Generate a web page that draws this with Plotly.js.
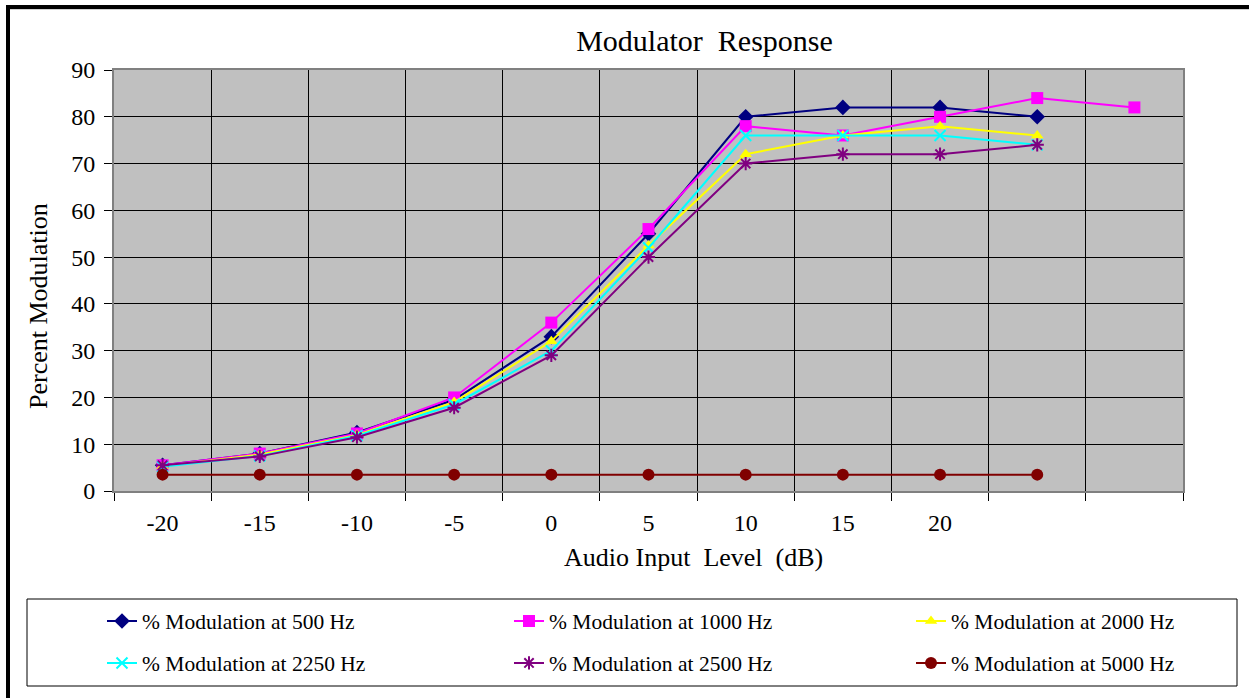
<!DOCTYPE html>
<html>
<head>
<meta charset="utf-8">
<script src="https://cdn.plot.ly/plotly-3.0.1.min.js"></script>
<style>
  html, body { margin: 0; padding: 0; background: #ffffff; }
  #chart { width: 1249px; height: 698px; }
</style>
</head>
<body>
<div id="chart"></div>
<script>
// Audio input level (dB) for each measurement point
const levels = [-20, -15, -10, -5, 0, 5, 10, 15, 20, 25, 30];
// Labelled ticks on the level axis
const tickLevels = [-20, -15, -10, -5, 0, 5, 10, 15, 20];
const tickLabels = ['-20', '-15', '-10', '-5', '0', '5', '10', '15', '20'];

// Percent modulation measured at each tone frequency
const mod500  = [5.5, 8.0, 12.5, 19.5, 33, 55, 80, 82, 82, 80];
const mod1000 = [5.5, 8.0, 12.3, 20.0, 36, 56, 78, 76, 80, 84, 82];
const mod2000 = [5.3, 7.8, 12.0, 19.0, 32, 52.5, 72, 76, 78, 76];
const mod2250 = [5.2, 7.5, 11.8, 18.5, 30, 52, 76, 76, 76, 74];
const mod2500 = [5.5, 7.4, 11.5, 17.8, 29, 50, 70, 72, 72, 74];
const mod5000 = [3.5, 3.5, 3.5, 3.5, 3.5, 3.5, 3.5, 3.5, 3.5, 3.5];

const seriesNames = [
  '% Modulation at 500 Hz', '% Modulation at 1000 Hz', '% Modulation at 2000 Hz',
  '% Modulation at 2250 Hz', '% Modulation at 2500 Hz', '% Modulation at 5000 Hz'
];

// ---- page geometry ----
const W = 1249, H = 698;
const M = { l: 114, r: 66, t: 70, b: 207, autoexpand: false };
const PW = W - M.l - M.r, PH = H - M.t - M.b;
const px2x = px => (px - M.l) / PW;          // pixel -> paper x
const py2y = py => (H - M.b - py) / PH;      // pixel -> paper y
const cx = px => px / W;                     // pixel -> container x
const cy = py => 1 - py / H;                 // pixel -> container y

const FONT = 'Liberation Serif, Times New Roman, serif';

function series(y, name, color, symbol, size, legendId, open) {
  const marker = { symbol: symbol, size: size, color: color };
  if (open) marker.line = { color: color, width: 2 };
  return {
    type: 'scatter', mode: 'lines+markers',
    x: levels.slice(0, y.length), y: y, name: name,
    line: { color: color, width: 2 },
    marker: marker,
    legend: legendId
  };
}

const traces = [
  series(mod500,  seriesNames[0], '#000080', 'diamond',       12, 'legend',  false),
  series(mod1000, seriesNames[1], '#FF00FF', 'square',        12, 'legend2', false),
  series(mod2000, seriesNames[2], '#FFFF00', 'triangle-up',   11, 'legend3', false),
  series(mod2250, seriesNames[3], '#00FFFF', 'x-thin-open',   11, 'legend4', true),
  series(mod2500, seriesNames[4], '#800080', 'asterisk-open', 11, 'legend5', true),
  series(mod5000, seriesNames[5], '#800000', 'circle',        12, 'legend6', false)
];

// Category boundaries for the vertical grid
const boundaries = [];
for (let i = 0; i <= levels.length; i++) boundaries.push(levels[0] - 2.5 + 5 * i);

// Legend entries: three columns, two rows
const colText = [142, 549, 951];
const rowY = [621, 663];
function legendAt(col, row) {
  return {
    xref: 'container', yref: 'container',
    x: cx(colText[col] - 40), xanchor: 'left',
    y: cy(rowY[row]), yanchor: 'middle',
    bgcolor: 'rgba(0,0,0,0)', borderwidth: 0,
    font: { family: FONT, size: 21.5, color: '#000' }
  };
}

const layout = {
  width: W, height: H,
  margin: M,
  paper_bgcolor: '#ffffff',
  plot_bgcolor: '#C0C0C0',
  showlegend: true,
  font: { family: FONT, color: '#000' },
  title: {
    text: 'Modulator\u00a0 Response',
    font: { family: FONT, size: 30, color: '#000' },
    xref: 'container', yref: 'container',
    x: cx(704.5), xanchor: 'center',
    y: cy(40), yanchor: 'middle'
  },
  xaxis: {
    type: 'linear',
    range: [boundaries[0], boundaries[boundaries.length - 1]],
    tickmode: 'array', tickvals: tickLevels, ticktext: tickLabels,
    ticks: '', showgrid: false, zeroline: false,
    tickfont: { family: FONT, size: 24, color: '#000' },
    ticklabelstandoff: 9, tickangle: 0,
    showline: true, mirror: true, linecolor: '#808080', linewidth: 2,
    minor: {
      tickmode: 'array', tickvals: boundaries,
      ticks: 'outside', ticklen: 8, tickcolor: '#000', tickwidth: 1,
      showgrid: true, gridcolor: '#000', gridwidth: 1
    },
    automargin: false,
    fixedrange: true
  },
  yaxis: {
    range: [0, 90], dtick: 10, tick0: 0,
    ticks: 'outside', ticklen: 8, tickcolor: '#000', tickwidth: 1,
    showgrid: true, gridcolor: '#000', gridwidth: 1, zeroline: false,
    tickfont: { family: FONT, size: 24, color: '#000' },
    ticklabelstandoff: 4,
    showline: true, mirror: true, linecolor: '#808080', linewidth: 2,
    automargin: false,
    fixedrange: true
  },
  legend:  legendAt(0, 0),
  legend2: legendAt(1, 0),
  legend3: legendAt(2, 0),
  legend4: legendAt(0, 1),
  legend5: legendAt(1, 1),
  legend6: legendAt(2, 1),
  annotations: [
    {
      text: 'Audio Input\u00a0 Level\u00a0 (dB)', showarrow: false,
      xref: 'paper', yref: 'paper', x: px2x(693), y: py2y(557),
      xanchor: 'center', yanchor: 'middle',
      font: { family: FONT, size: 26, color: '#000' }
    },
    {
      text: 'Percent Modulation', showarrow: false, textangle: -90,
      xref: 'paper', yref: 'paper', x: px2x(38), y: py2y(306),
      xanchor: 'center', yanchor: 'middle',
      font: { family: FONT, size: 26, color: '#000' }
    }
  ],
  shapes: [
    // legend frame
    { type: 'rect', xref: 'paper', yref: 'paper', layer: 'below',
      x0: px2x(27), x1: px2x(1237), y0: py2y(599), y1: py2y(686),
      line: { color: '#000', width: 1 }, fillcolor: 'rgba(0,0,0,0)' },
    // outer chart frame (left and top edges)
    { type: 'line', xref: 'paper', yref: 'paper',
      x0: px2x(8), x1: px2x(8), y0: py2y(5), y1: py2y(720),
      line: { color: '#000', width: 4 } },
    { type: 'line', xref: 'paper', yref: 'paper',
      x0: px2x(6), x1: px2x(1300), y0: py2y(7), y1: py2y(7),
      line: { color: '#000', width: 4 } },
    { type: 'line', xref: 'paper', yref: 'paper',
      x0: px2x(10), x1: px2x(1300), y0: py2y(9.5), y1: py2y(9.5),
      line: { color: '#d0d0d0', width: 1 } }
  ]
};

Plotly.newPlot('chart', traces, layout, { staticPlot: true, displayModeBar: false });
</script>
</body>
</html>
